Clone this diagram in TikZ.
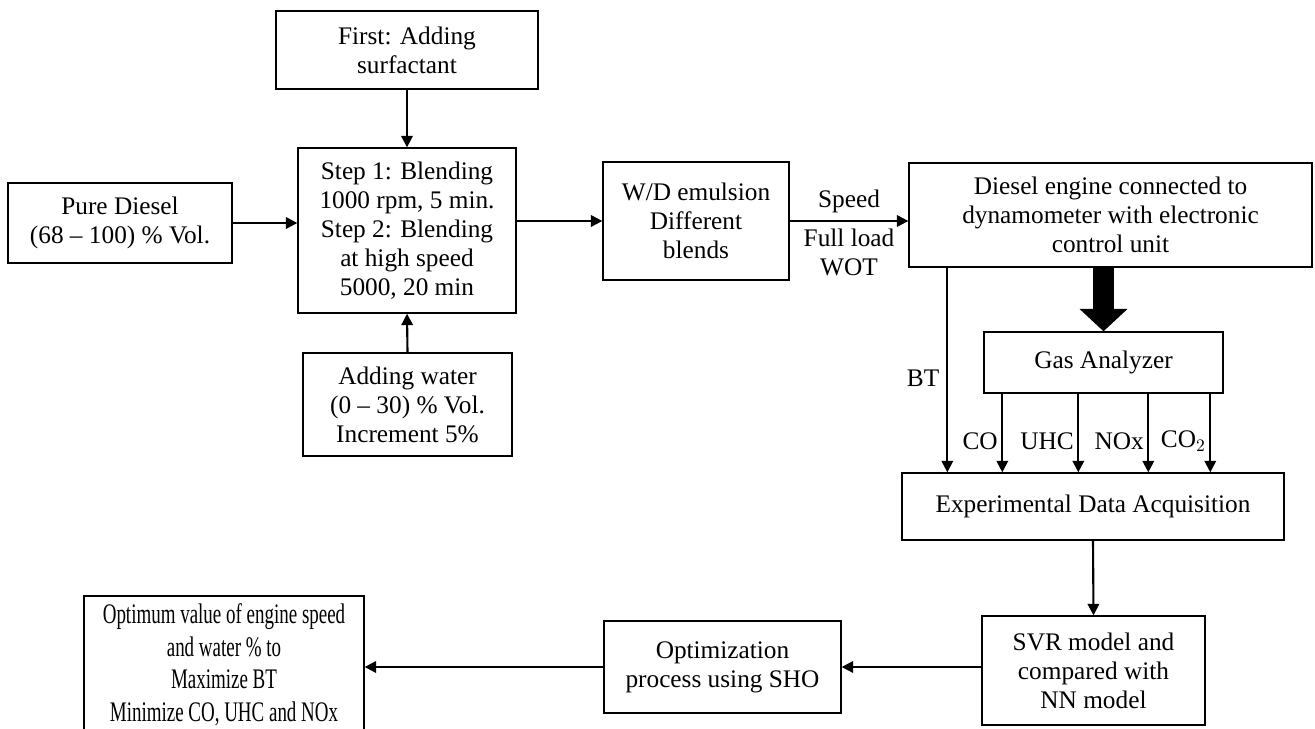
\documentclass[tikz,border=0pt]{standalone}
\usepackage{fontspec}
\setmainfont{Liberation Serif}
\usetikzlibrary{arrows.meta}
\tikzset{
	box/.style={draw, line width=0.8pt, align=center, inner sep=2pt},
	arr/.style={line width=1.2pt, -{Triangle[length=6.5pt,width=6.5pt]}},
}
\begin{document}
\begin{tikzpicture}[x=0.02cm, y=-0.02cm, font=\fontsize{14.4}{16.5}\selectfont]
		\useasboundingbox[fill=white] (0,0) rectangle (1315,729);
		% boxes
		\node[box, minimum width=4.48cm, minimum height=1.6cm] (diesel) at (120,223) {Pure Diesel\\(68 -- 100) \% Vol.};
		\node[box, minimum width=5.24cm, minimum height=1.56cm] (surf) at (407,50) {First: Adding\\surfactant};
		\node[box, minimum width=4.36cm, minimum height=3.3cm] (blend) at (407,230.5) {Step 1: Blending\\1000 rpm, 5 min.\\Step 2: Blending\\at high speed\\5000, 20 min};
		\node[box, minimum width=4.18cm, minimum height=2.06cm] (water) at (407.5,404.5) {Adding water\\(0 -- 30) \% Vol.\\Increment 5\%};
		\node[box, minimum width=3.72cm, minimum height=2.36cm] (emul) at (696,221) {W/D emulsion\\Different\\blends};
		\node[box, minimum width=8.06cm, minimum height=2.08cm] (engine) at (1110.5,215) {Diesel engine connected to\\dynamometer with electronic\\control unit};
		\node[box, minimum width=4.78cm, minimum height=1.22cm] (gas) at (1103.5,362.5) {Gas Analyzer};
		\node[box, minimum width=7.64cm, minimum height=1.34cm] (exp) at (1093,506.5) {Experimental Data Acquisition};
		\node[box, minimum width=4.46cm, minimum height=2.18cm] (svr) at (1093.5,670.5) {SVR model and\\compared with\\NN model};
		\node[box, minimum width=4.74cm, minimum height=1.84cm] (opt) at (722.5,667) {Optimization\\process using SHO};
		\node[box, minimum width=5.6cm, minimum height=2.8cm] (result) at (224,666)
			{\scalebox{0.75}[1.12]{\begin{tabular}{@{}c@{}}Optimum value of engine speed\\and water \% to\\Maximize BT\\Minimize CO, UHC and NOx\end{tabular}}};
		% connectors
		\draw[arr] (diesel.east) -- (diesel.east -| blend.west);
		\draw[arr] (surf.south) -- (blend.north);
		\draw[arr] (water.north) -- (blend.south);
		\draw[arr] (emul.west -| blend.east) -- (emul.west);
		\draw[arr] (emul.east) -- (emul.east -| engine.west)
			node[midway, above, inner sep=4pt] {Speed}
			node[midway, below, align=center, inner sep=4pt] {Full load\\WOT};
		\draw[line width=0.42cm, -{Triangle[length=0.45cm,width=0.94cm]}] (engine.south -| gas.north) -- (gas.north);
		\draw[arr] ([xshift=0.78cm]engine.south west) -- ([xshift=0.78cm]engine.south west |- exp.north)
			node[pos=0.54, left, inner sep=4pt] {BT};
		\foreach \dx/\gasname in {0.38/CO, 1.9/UHC, 3.3/NOx, 4.54/CO$_2$}
			\draw[arr] ([xshift=\dx cm]gas.south west) -- ([xshift=\dx cm]gas.south west |- exp.north)
				node[pos=0.6, left, inner sep=2pt] {\gasname};
		\draw[arr] (exp.south) -- (svr.north);
		\draw[arr] (opt.east -| svr.west) -- (opt.east);
		\draw[arr] (opt.west) -- (opt.west -| result.east);
	\end{tikzpicture}
\end{document}
